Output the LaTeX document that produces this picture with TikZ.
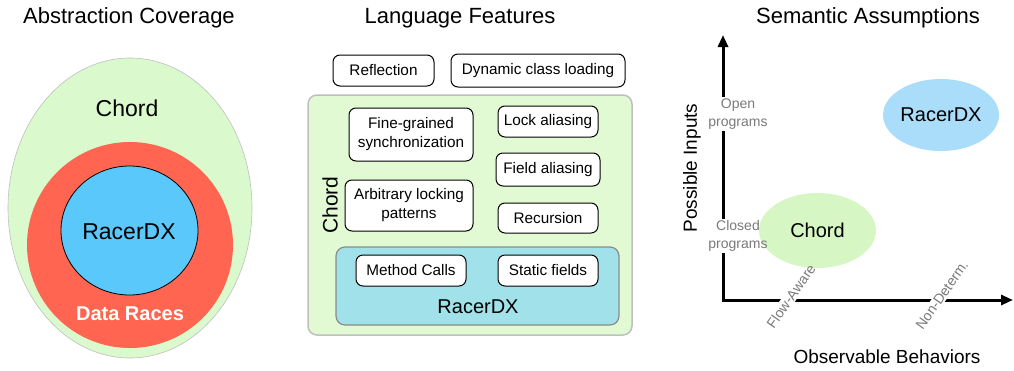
\documentclass[tikz,border=0pt]{standalone}
\usepackage{fontspec}
\setmainfont{Liberation Sans}
\usetikzlibrary{shapes.geometric,arrows.meta}
\definecolor{lgreen}{HTML}{DAF9CC}
\definecolor{boxgreen}{HTML}{E2FAD3}
\definecolor{racered}{HTML}{FF6550}
\definecolor{rblue}{HTML}{5AC8FA}
\definecolor{boxcyan}{HTML}{A0E1EA}
\definecolor{eblue}{HTML}{A9DDF9}
\definecolor{egreen}{HTML}{D6F7C4}
\definecolor{lblgray}{HTML}{7A7A7A}
\newcommand{\fs}[2]{\fontsize{#1}{#2}\selectfont}
\pgfdeclarelayer{axes}\pgfdeclarelayer{gap}\pgfdeclarelayer{shapes}
\pgfsetlayers{axes,gap,shapes,main}
\tikzset{
  feat/.style={draw=black, line width=1pt, rounded corners=7pt, fill=white, align=center, inner sep=0pt, font=\fs{15.3}{19}},
  title/.style={font=\fs{22}{26}},
  axlbl/.style={text=lblgray, font=\fs{14}{18}, align=center, inner sep=1pt},
  biglbl/.style={font=\fs{19}{23}},
}
\begin{document}
\begin{tikzpicture}[x=1pt,y=-1pt]
\useasboundingbox (0,0) rectangle (1014,370);
% ---------- Abstraction Coverage ----------
\node[title] (t1) at (129,18) {Abstraction Coverage};
\node[ellipse, draw=black!25, line width=0.6pt, fill=lgreen, minimum width=244, minimum height=300, inner sep=0] (outer) at (130,208) {};
\node[circle, fill=racered, minimum size=206, inner sep=0] (red) at (130,245) {};
\node[ellipse, draw=black, line width=0.8pt, fill=rblue, minimum width=137, minimum height=129, inner sep=0] (blue) at (129.5,230.5) {};
\node[font=\fs{23}{27}] (chordA) at (127,108) {Chord};
\node[font=\fs{23}{27}] (racerA) at (129,232) {RacerDX};
\node[font=\bfseries\fs{20}{24}, text=white] (dr) at (130,314) {Data Races};
% ---------- Language Features ----------
\node[title] (t2) at (460,18) {Language Features};
\node[feat, minimum width=101, minimum height=31] (refl) at (383.5,70.5) {Reflection};
\node[feat, minimum width=174, minimum height=33] (dyn) at (538,70.5) {Dynamic class loading};
\node[draw=black!25, line width=1.5pt, rounded corners=9pt, fill=boxgreen, minimum width=324, minimum height=240] (chordbox) at (470,215) {};
\node[feat, minimum width=124, minimum height=53] (fine) at (411,134.5) {Fine-grained\\synchronization};
\node[feat, minimum width=100, minimum height=31] (lock) at (548,121.5) {Lock aliasing};
\node[feat, minimum width=104, minimum height=33] (field) at (548,169.5) {Field aliasing};
\node[feat, minimum width=128, minimum height=51] (arb) at (409,205.5) {Arbitrary locking\\patterns};
\node[feat, minimum width=100, minimum height=30] (rec) at (548,218) {Recursion};
\node[draw=black!45, line width=1.2pt, rounded corners=9pt, fill=boxcyan, minimum width=283, minimum height=78] (racerbox) at (477.5,286) {};
\node[feat, minimum width=110, minimum height=31] (method) at (411,270.5) {Method Calls};
\node[feat, minimum width=100, minimum height=31] (static) at (548,270.5) {Static fields};
\node[font=\fs{20}{24}] (racerB) at (478,307) {RacerDX};
\node[font=\fs{21}{25}, rotate=90] (chordB) at (330,205) {Chord};
% ---------- Semantic Assumptions ----------
\node[title] (t3) at (868,18) {Semantic Assumptions};
\coordinate (o) at (723,300);
\coordinate (ytop) at (723,35);
\coordinate (xend) at (1013,300);
\begin{pgfonlayer}{axes}
\draw[line width=3pt, -{Triangle[length=12pt,width=10pt]}] ([yshift=1.5pt]o) -- (ytop);
\draw[line width=3pt, -{Triangle[length=12pt,width=10pt]}] ([xshift=-1.5pt]o) -- (xend);
\end{pgfonlayer}
\node[axlbl] (open) at (738,114) {Open\\programs};
\node[axlbl] (closed) at (738,236) {Closed\\programs};
\node[axlbl, rotate=55] (flow) at (791,296) {Flow-Aware};
\node[axlbl, rotate=55] (nondet) at (942,295) {Non-Determ.};
\begin{pgfonlayer}{gap}
\foreach \n in {open,closed,flow,nondet}{
  \fill[white] (\n.south west) -- (\n.south east) -- (\n.north east) -- (\n.north west) -- cycle;
}
\end{pgfonlayer}
\begin{pgfonlayer}{shapes}
\node[ellipse, fill=eblue, minimum width=116, minimum height=72, inner sep=0, font=\fs{20}{24}] (racerC) at (941,115) {RacerDX};
\node[ellipse, fill=egreen, minimum width=117, minimum height=75, inner sep=0, font=\fs{20}{24}] (chordC) at (817.5,230.5) {Chord};
\end{pgfonlayer}
\node[biglbl, rotate=90] (pin) at (692,168) {Possible Inputs};
\node[biglbl] (obs) at (887,357) {Observable Behaviors};
\end{tikzpicture}
\end{document}
